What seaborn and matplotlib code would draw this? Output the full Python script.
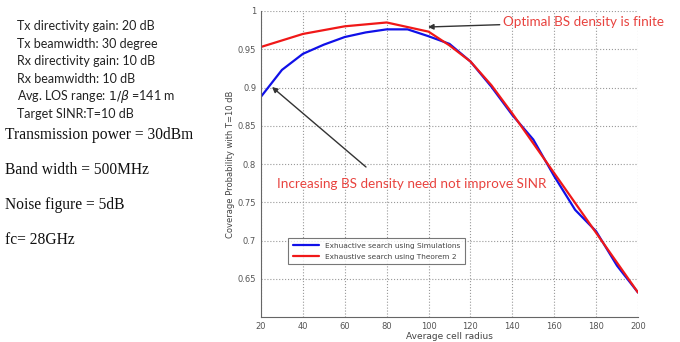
import matplotlib
matplotlib.use("Agg")
import matplotlib.pyplot as plt
import numpy as np
import pandas as pd
import seaborn as sns

# coverage probability vs average cell radius
radius_sim = [20, 30, 40, 50, 60, 70, 80, 90, 100, 110, 120, 130, 140, 150, 160, 170, 180, 190, 200]
cov_sim = [0.888, 0.923, 0.944, 0.956, 0.966, 0.972, 0.976, 0.976, 0.967, 0.957, 0.934,
           0.901, 0.864, 0.832, 0.784, 0.740, 0.712, 0.667, 0.632]
radius_thm = [20, 40, 60, 80, 100, 110, 120, 130, 140, 150, 160, 170, 180, 190, 200]
cov_thm = [0.953, 0.970, 0.980, 0.985, 0.973, 0.955, 0.934, 0.903, 0.866, 0.827, 0.788,
           0.749, 0.710, 0.671, 0.632]

params_small = ["Tx directivity gain: 20 dB", "Tx beamwidth: 30 degree",
                "Rx directivity gain: 10 dB", "Rx beamwidth: 10 dB",
                r"Avg. LOS range: $1/\beta$ =141 m", "Target SINR:T=10 dB"]
params_big = ["Transmission power = 30dBm", "Band width = 500MHz",
              "Noise figure = 5dB", "fc= 28GHz"]

df = pd.concat([
    pd.DataFrame({"radius": radius_sim, "cov": cov_sim, "src": "Exhuactive search using Simulations"}),
    pd.DataFrame({"radius": radius_thm, "cov": cov_thm, "src": "Exhaustive search using Theorem 2"}),
])

sns.set_style("white")
fig = plt.figure(figsize=(6.8, 3.42), dpi=100)
ax = fig.add_axes([261/680, 1 - 317/342, (638-261)/680, (317-11)/342])

sns.lineplot(data=df, x="radius", y="cov", hue="src", ax=ax,
             palette={"Exhuactive search using Simulations": "#1010e8",
                      "Exhaustive search using Theorem 2": "#f01818"},
             linewidth=1.6)

ax.set_xlim(20, 200)
ax.set_ylim(0.6, 1.0)
ax.set_xticks(np.arange(20, 201, 20))
ax.set_yticks([0.65, 0.7, 0.75, 0.8, 0.85, 0.9, 0.95, 1.0])
ax.set_yticklabels(["0.65", "0.7", "0.75", "0.8", "0.85", "0.9", "0.95", "1"])
ax.tick_params(labelsize=6, colors="#555555", length=2, direction="in")
ax.grid(True, linestyle=":", color="#999999", linewidth=0.8)
for s in ["top", "right"]:
    ax.spines[s].set_visible(False)
for s in ["left", "bottom"]:
    ax.spines[s].set_color("#666666")
    ax.spines[s].set_linewidth(0.8)
ax.set_xlabel("Average cell radius", fontsize=6.5, color="#444444", labelpad=1)
ax.set_ylabel("Coverage Probability with T=10 dB", fontsize=6, color="#444444", labelpad=2)

leg = ax.legend(loc="upper left", bbox_to_anchor=(0.072, 0.258), fontsize=5.3,
                frameon=True, fancybox=False, edgecolor="#555555", borderaxespad=0,
                handlelength=3.5, borderpad=0.65, labelspacing=0.6)
leg.get_frame().set_linewidth(0.8)
for t in leg.get_texts():
    t.set_color("#444444")

ax.annotate("Optimal BS density is finite", xy=(428/680, 1 - 27/342), xycoords="figure fraction",
            xytext=(503/680, 1 - 22/342), textcoords="figure fraction",
            color="#e8433f", fontsize=9.7, va="center", family="Lato",
            arrowprops=dict(arrowstyle="-|>", color="#333333", lw=1.0, mutation_scale=8,
                            shrinkA=0, shrinkB=0))
ax.annotate("", xy=(272/680, 1 - 87/342), xycoords="figure fraction",
            xytext=(366/680, 1 - 167/342), textcoords="figure fraction",
            arrowprops=dict(arrowstyle="-|>", color="#333333", lw=1.0, mutation_scale=8,
                            shrinkA=0, shrinkB=0))
fig.text(277/680, 1 - 184/342, "Increasing BS density need not improve SINR",
         color="#e8433f", fontsize=9.7, va="center", family="Lato")

for i, s in enumerate(params_small):
    fig.text(17/680, 1 - (26 + i * 17.6)/342, s, fontsize=9, va="center",
             color="#222222", family="Lato")
for i, s in enumerate(params_big):
    fig.text(5/680, 1 - (135 + i * 35)/342, s, fontsize=11.2, va="center",
             color="#111111", family="Liberation Serif")

plt.savefig("out.png", dpi=100)
